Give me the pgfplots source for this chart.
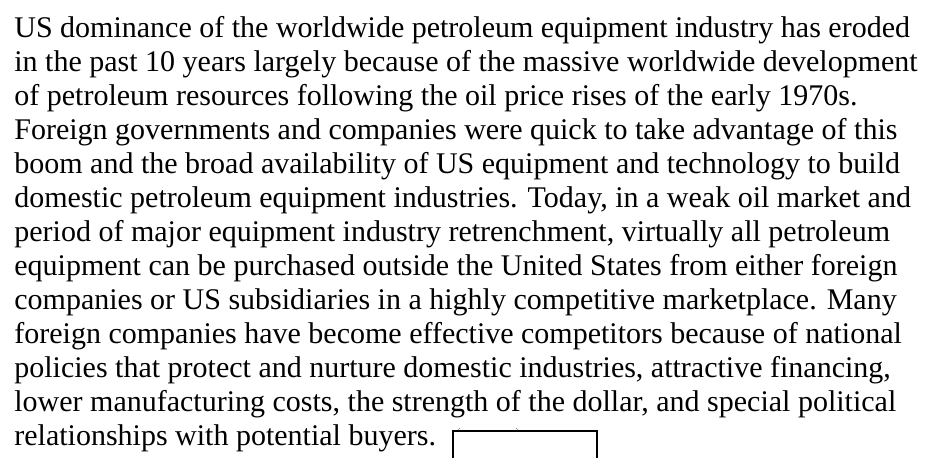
\documentclass[border=0pt]{standalone}
\usepackage{pgfplots}
\pgfplotsset{compat=1.18}
\usepackage{fontspec}
\setmainfont{Liberation Serif}

\begin{document}
\begin{tikzpicture}
\begin{axis}[
    hide axis,
    scale only axis,
    width=471.5pt, height=229pt,
    xmin=0, xmax=943, ymin=0, ymax=458,
    y dir=reverse,
    clip=false,
  ]
  % frame extent
  \addplot[draw=none] coordinates {(0,0) (943,458)};
  % open box after the last line
  \addplot[black, line width=0.6pt] coordinates {(453,458) (453,431) (597,431) (597,458)};
  \addplot[gray, line width=0.3pt] coordinates {(458,430) (460,428)};
  \addplot[gray, line width=0.3pt] coordinates {(516,428) (518,430)};

  \begin{scope}[every node/.style={anchor=base west, inner sep=0pt,
      font=\fontsize{15}{18}\selectfont}]
  \node at (axis cs:14,37) {US dominance of the worldwide petroleum equipment industry has eroded};
  \node at (axis cs:14,71) {in the past 10 years largely because of the massive worldwide development};
  \node at (axis cs:14,105) {of petroleum resources following the oil price rises of the early 1970s.};
  \node at (axis cs:14,139) {Foreign governments and companies were quick to take advantage of this};
  \node at (axis cs:14,173) {boom and the broad availability of US equipment and technology to build};
  \node at (axis cs:14,207) {domestic petroleum equipment industries. Today, in a weak oil market and};
  \node at (axis cs:14,241) {period of major equipment industry retrenchment, virtually all petroleum};
  \node at (axis cs:14,275) {equipment can be purchased outside the United States from either foreign};
  \node at (axis cs:14,309) {companies or US subsidiaries in a highly competitive marketplace. Many};
  \node at (axis cs:14,343) {foreign companies have become effective competitors because of national};
  \node at (axis cs:14,377) {policies that protect and nurture domestic industries, attractive financing,};
  \node at (axis cs:14,411) {lower manufacturing costs, the strength of the dollar, and special political};
  \node at (axis cs:14,445) {relationships with potential buyers.};
  \end{scope}
\end{axis}
\end{tikzpicture}
\end{document}
